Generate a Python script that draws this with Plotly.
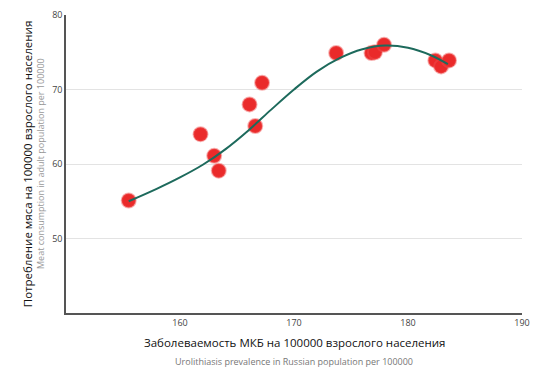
import plotly.graph_objects as go

# Observed data points
incidence = [155.5, 161.8, 163.0, 163.4, 166.1, 166.6, 167.2, 173.7, 176.8, 177.1, 177.9, 182.4, 182.9, 183.6]
meat = [55.1, 64.0, 61.1, 59.1, 68.0, 65.1, 70.9, 74.9, 74.9, 75.0, 76.0, 73.9, 73.1, 73.9]

# Trend curve
trend_x = [155.5, 158, 160, 162, 164, 166, 168, 170, 172, 174, 176, 178, 180, 182, 183.5]
trend_y = [55.0, 56.7, 58.2, 59.9, 62.0, 64.5, 67.3, 70.0, 72.4, 74.2, 75.4, 75.9, 75.6, 74.6, 73.4]

x_ticks = [160, 170, 180, 190]
y_ticks = [50, 60, 70, 80]

fig = go.Figure()
fig.add_trace(go.Scatter(
    x=incidence, y=meat, mode="markers",
    marker=dict(size=14, color="#ea2a2a", line=dict(width=2, color="rgba(240,80,80,0.45)")),
    showlegend=False, hoverinfo="x+y"))
fig.add_trace(go.Scatter(
    x=trend_x, y=trend_y, mode="lines", line=dict(color="#1d6a5c", width=2, shape="spline"),
    showlegend=False, hoverinfo="skip"))

fig.update_layout(
    template="none",
    width=532, height=364,
    margin=dict(l=58, r=18, t=7, b=59, autoexpand=False),
    paper_bgcolor="white", plot_bgcolor="white",
    font=dict(family="Open Sans, DejaVu Sans, sans-serif", size=9, color="#444"),
    xaxis=dict(range=[150, 190], tickvals=x_ticks, showgrid=False, zeroline=False, automargin=False,
               showline=True, linecolor="#555", linewidth=1.5, ticks="",
               tickfont=dict(size=9, color="#444")),
    yaxis=dict(range=[40, 80], tickvals=y_ticks, showgrid=True, gridcolor="#e3e3e3", automargin=False,
               zeroline=False, showline=True, linecolor="#555", linewidth=1.5, ticks="",
               tickfont=dict(size=9, color="#444")),
    annotations=[
        dict(text="Заболеваемость МКБ на 100000 взрослого населения", xref="paper", yref="paper",
             x=0.5, y=-0.1, xanchor="center", yanchor="middle", showarrow=False,
             font=dict(size=11.5, color="#111")),
        dict(text="Urolithiasis prevalence in Russian population per 100000", xref="paper", yref="paper",
             x=0.5, y=-0.163, xanchor="center", yanchor="middle", showarrow=False,
             font=dict(size=9, color="#777")),
        dict(text="Потребление мяса на 100000 взрослого населения", xref="paper", yref="paper",
             x=-0.085, y=0.5, xanchor="center", yanchor="middle", showarrow=False, textangle=-90,
             font=dict(size=11.5, color="#111")),
        dict(text="Meat consumption in adult population per 100000", xref="paper", yref="paper",
             x=-0.057, y=0.5, xanchor="center", yanchor="middle", showarrow=False, textangle=-90,
             font=dict(size=9, color="#999")),
    ],
)
fig.write_html("out.html")
